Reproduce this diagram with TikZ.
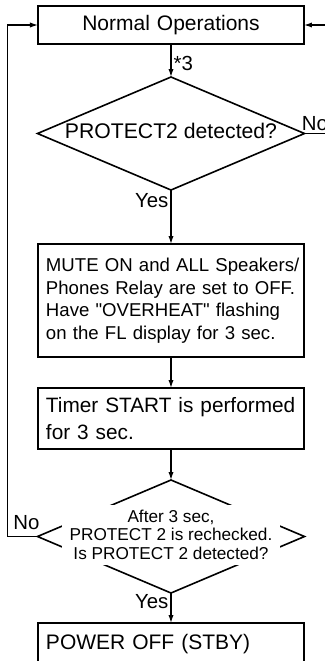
\documentclass[tikz,border=0pt]{standalone}
\usepackage{fontspec}
\setmainfont{Liberation Sans}
\usetikzlibrary{shapes.geometric, arrows.meta, positioning}

\begin{document}
\begin{tikzpicture}[
    node distance=15.5pt,
    every node/.style={font=\fontsize{10.5}{12.6}\selectfont},
    box/.style={rectangle, draw, line width=1pt, outer sep=0pt, minimum width=133pt, text width=125pt, inner xsep=4pt, align=left},
    decision/.style={diamond, draw, line width=0.8pt, outer sep=0pt, inner sep=0pt, minimum width=133.5pt, minimum height=56.5pt},
    flow/.style={-{Latex[length=4pt, width=2.6pt]}, line width=0.6pt},
    lbl/.style={font=\fontsize{10.2}{12}\selectfont, inner sep=1pt}
]
\useasboundingbox (-85.5pt,12.5pt) rectangle (77pt,-318pt);
\clip (-85.5pt,12.5pt) rectangle (77pt,-318pt);

\node[box, align=center, minimum height=19pt] (normal) {Normal Operations};
\node[decision, below=16.5pt of normal] (check) {};
\node[yshift=1.5pt, font=\fontsize{10.6}{12.6}\selectfont] (checktxt) at (check) {PROTECT2 detected?};
\node[box, minimum height=56.5pt, below=27pt of check, font=\fontsize{9.3}{11.25}\selectfont] (mute)
    {\mbox{MUTE ON and ALL Speakers/}\\Phones Relay are set to OFF.\\Have \textquotedbl OVERHEAT\textquotedbl\ flashing\\on the FL display for 3 sec.};
\node[box, minimum height=30.5pt, below=of mute, font=\fontsize{10.4}{13.5}\selectfont] (timer)
    {\mbox{Timer START is performed}\\for 3 sec.};
\node[decision, below=of timer] (recheck) {};
\node[fill=white, inner sep=0pt, minimum width=109pt, minimum height=30pt, align=center, yshift=1pt,
      font=\fontsize{8.6}{9.3}\selectfont] (rechecktxt) at (recheck)
    {After 3 sec,\\PROTECT 2 is rechecked.\\Is PROTECT 2 detected?};
\node[box, minimum height=21pt, below=15pt of recheck] (off) {POWER OFF (STBY)};

\draw[flow] (normal) -- node[lbl, right, pos=0.58] (star) {*3} (check);
\draw[flow] (check) -- node[lbl, left, pos=0.2] (yes1) {Yes} (mute);
\draw[flow] (mute) -- (timer);
\draw[flow] (timer) -- (recheck);
\draw[flow] (recheck) -- node[lbl, left, pos=0.3] (yes2) {Yes} (off);

% loop back
\draw[flow] (check.east) -- ++(20pt,0) |- (normal.east);
\node[lbl, anchor=south west, xshift=-2.5pt] (no1) at (check.east) {No};
\draw[flow] (recheck.west) -- node[lbl, above=2pt, pos=0.37] (no2) {No} ++(-15pt,0) |- (normal.west);
\end{tikzpicture}
\end{document}
